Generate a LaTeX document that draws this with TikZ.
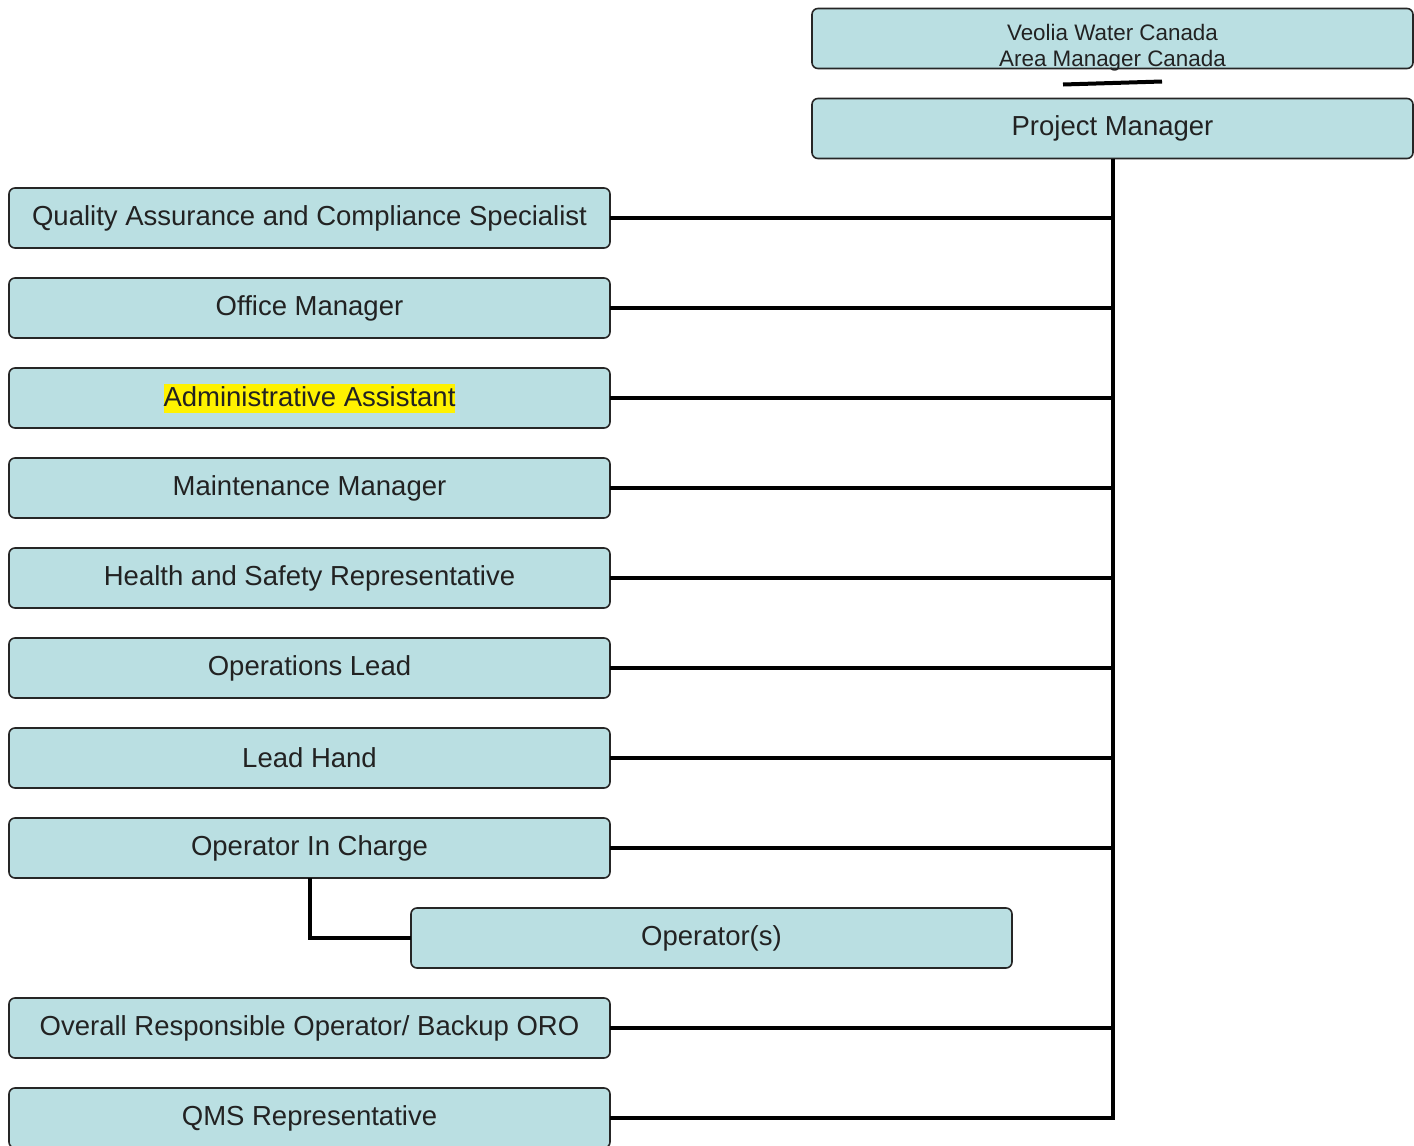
\documentclass[tikz,border=0pt]{standalone}
\usepackage{fontspec}
\setmainfont{Liberation Sans}
\usepackage{xcolor}
\usetikzlibrary{positioning}
\definecolor{boxFill}{RGB}{186,223,226}
\definecolor{textColor}{RGB}{34,34,34}
\tikzset{
    rolebox/.style={
        draw=black!85,
        line width=1.6pt,
        rounded corners=6pt,
        fill=boxFill,
        text=textColor,
        minimum width=601pt,
        minimum height=60pt,
        inner sep=0pt,
        outer sep=0pt,
        font=\fontsize{27.5}{33}\selectfont
    },
    link/.style={
        line width=4pt,
        black
    }
}
\newcommand{\hilite}[1]{{\setlength{\fboxsep}{0pt}\colorbox{yellow}{\rule[-6.5pt]{0pt}{29pt}#1}}}

\begin{document}
\begin{tikzpicture}[x=1pt, y=-1pt]
                \useasboundingbox (0,0) rectangle (1414,1146);

                % top of the chart
                \node[rolebox] (VEOLIA) at (1112.5,38.5) {};
                \node[text=textColor, align=center, font=\fontsize{22.4}{26.5}\selectfont] (VEOLIA_TXT) at (1112.5,47.5) {Veolia Water Canada\\Area Manager Canada};
                \node[rolebox, below=30pt of VEOLIA] (PM) {Project Manager};
                \draw[link] ([xshift=-49.5pt, yshift=-16pt]VEOLIA.south) -- ([xshift=49.5pt, yshift=-13pt]VEOLIA.south);

                % roles reporting to the project manager
                \node[rolebox] (QA) at (309.5,218) {Quality Assurance and Compliance Specialist};
                \node[rolebox, below=30pt of QA] (OM) {Office Manager};
                \node[rolebox, below=30pt of OM] (ADMIN) {\hilite{Administrative Assistant}};
                \node[rolebox, below=30pt of ADMIN] (MM) {Maintenance Manager};
                \node[rolebox, below=30pt of MM] (HS) {Health and Safety Representative};
                \node[rolebox, below=30pt of HS] (OPL) {Operations Lead};
                \node[rolebox, below=30pt of OPL] (LH) {Lead Hand};
                \node[rolebox, below=30pt of LH] (OIC) {Operator In Charge};
                \node[rolebox, below=30pt of OIC, xshift=402pt] (OPS) {Operator(s)};
                \node[rolebox, below=30pt of OPS, xshift=-402pt] (ORO) {Overall Responsible Operator/ Backup ORO};
                \node[rolebox, below=30pt of ORO] (QMS) {QMS Representative};

                % trunk line
                \draw[link] (PM.south) |- (QMS.east);
                \draw[link] (QA.east) -- (QA.east -| PM.south);
                \draw[link] (OM.east) -- (OM.east -| PM.south);
                \draw[link] (ADMIN.east) -- (ADMIN.east -| PM.south);
                \draw[link] (MM.east) -- (MM.east -| PM.south);
                \draw[link] (HS.east) -- (HS.east -| PM.south);
                \draw[link] (OPL.east) -- (OPL.east -| PM.south);
                \draw[link] (LH.east) -- (LH.east -| PM.south);
                \draw[link] (OIC.east) -- (OIC.east -| PM.south);
                \draw[link] (ORO.east) -- (ORO.east -| PM.south);

                % operators under the operator in charge
                \draw[link] (OIC.south) |- (OPS.west);
            \end{tikzpicture}
\end{document}
